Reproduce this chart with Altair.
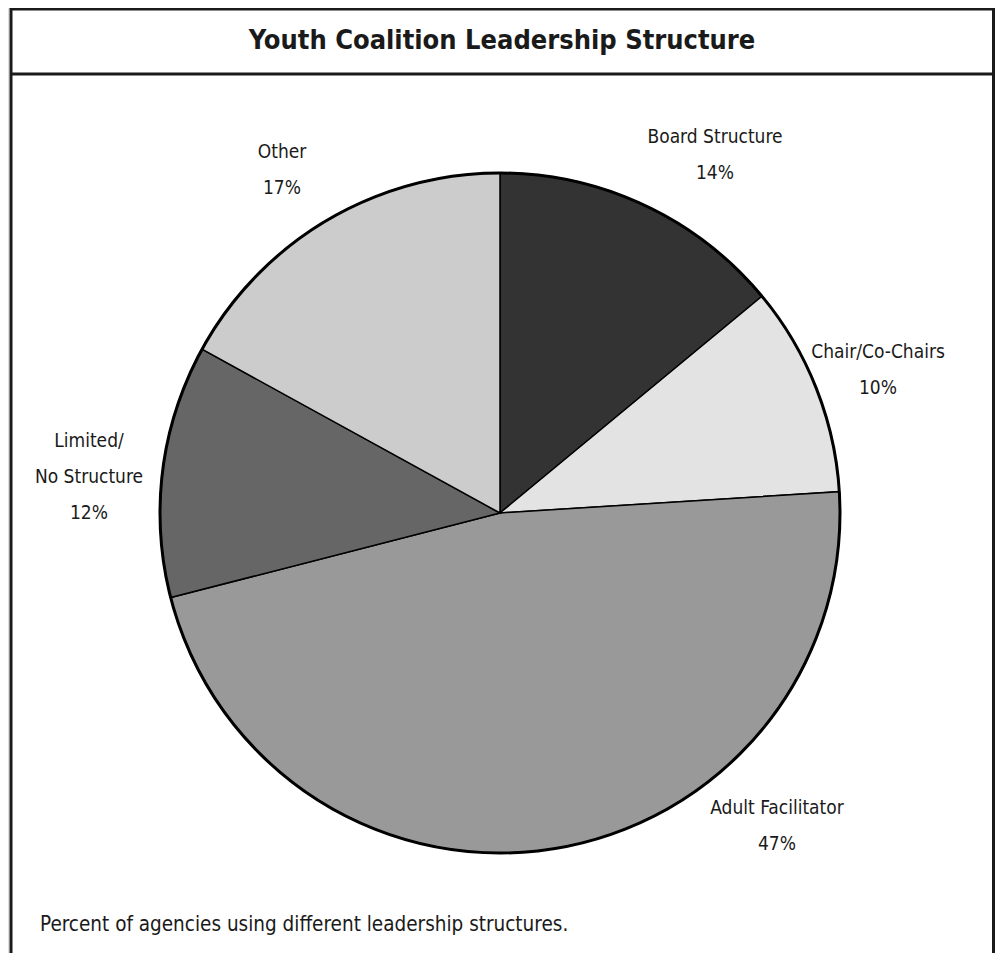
import altair as alt
import pandas as pd

# ---- data ----
categories = ["Board Structure", "Chair/Co-Chairs", "Adult Facilitator", "Limited/No Structure", "Other"]
values = [14, 10, 47, 12, 17]
label_lines = [
    ["Board Structure", "14%"],
    ["Chair/Co-Chairs", "10%"],
    ["Adult Facilitator", "47%"],
    ["Limited/", "No Structure", "12%"],
    ["Other", "17%"],
]
slice_colors = ["#333333", "#e3e3e3", "#999999", "#666666", "#cccccc"]

# ---- layout (chart pixel coords, not data) ----
W, H = 987, 945
CX, CY, R = 492, 505, 340
label_xy = [(707, 129), (870, 344), (769, 800), (81, 433), (274, 144)]
FONT = "Liberation Sans Narrow, DejaVu Sans Condensed, Roboto Condensed, sans-serif"

df = pd.DataFrame({"category": categories, "value": values, "order": range(len(categories))})
labels = pd.DataFrame({
    "text": label_lines,
    "x": [p[0] for p in label_xy],
    "y": [p[1] for p in label_xy],
})
one = df.head(1)

frame = alt.Chart(one).mark_rect(fill="white", stroke="#1a1a1a", strokeWidth=3).encode(
    x=alt.value(3), x2=alt.value(985.5), y=alt.value(1), y2=alt.value(H + 20)
)

pie = alt.Chart(df).mark_arc(radius=R, stroke="black", strokeWidth=1.5).encode(
    theta=alt.Theta("value:Q", stack=True),
    order=alt.Order("order:Q"),
    color=alt.Color("category:N", sort=categories,
                    scale=alt.Scale(domain=categories, range=slice_colors), legend=None),
    x=alt.value(CX), y=alt.value(CY),
)

ring = alt.Chart(one).mark_arc(radius=R, theta=0, theta2=6.2832, fill=None,
                               fillOpacity=0, stroke="black", strokeWidth=3).encode(
    x=alt.value(CX), y=alt.value(CY),
)

lab = alt.Chart(labels).mark_text(font=FONT, fontSize=19, color="#1a1a1a",
                                  align="center", baseline="middle", lineHeight=36).encode(
    x=alt.X("x:Q", scale=None), y=alt.Y("y:Q", scale=None), text="text"
)

title = alt.Chart(one).mark_text(
    text="Youth Coalition Leadership Structure", font=FONT, fontSize=27, fontWeight="bold",
    color="#1a1a1a", align="center", baseline="middle"
).encode(x=alt.value(494), y=alt.value(33))

sep = alt.Chart(one).mark_rule(color="#1a1a1a", strokeWidth=3).encode(
    x=alt.value(3), x2=alt.value(985.5), y=alt.value(66)
)

caption = alt.Chart(one).mark_text(
    text="Percent of agencies using different leadership structures.", font=FONT, fontSize=20.5,
    color="#1a1a1a", align="left", baseline="middle"
).encode(x=alt.value(32), y=alt.value(917))

chart = alt.layer(frame, pie, ring, lab, title, sep, caption).properties(
    width=W, height=H, padding=0, autosize=alt.AutoSizeParams(type="none")
).configure_view(strokeWidth=0).configure(background="white")

chart.save("out.html", embed_options={"renderer": "svg", "actions": False})
